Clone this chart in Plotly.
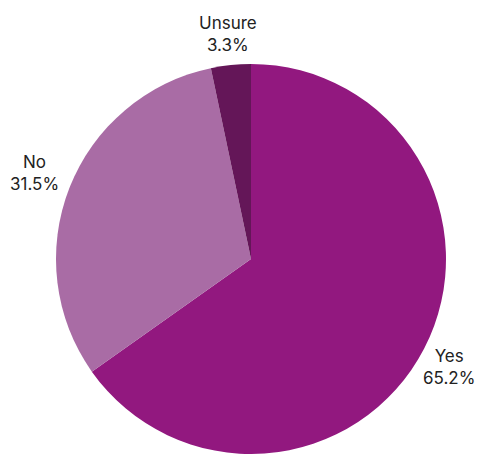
import math
import plotly.graph_objects as go

labels = ["Yes", "No", "Unsure"]
values = [65.2, 31.5, 3.3]
colors = ["#92187F", "#A96CA5", "#641658"]

# the page adds an 8px body margin, so the figure is drawn 8px smaller
W, H = 475, 446
# pie placement in figure pixels
cx, cy, r = 243, 251, 195
gap = 8          # gap between pie edge and label box
edge_pad = 9     # keep labels clear of the window edge
font_size = 17

fig = go.Figure(go.Pie(
    labels=labels,
    values=values,
    sort=False,
    direction="clockwise",
    rotation=0,
    marker=dict(colors=colors, line=dict(width=0)),
    textinfo="none",
    showlegend=False,
    hoverinfo="label+percent",
    domain=dict(x=[(cx - r) / W, (cx + r) / W],
                y=[max(0, (H - cy - r) / H), (H - cy + r) / H]),
))

total = sum(values)
start = 0.0
annotations = []
for lab, val in zip(labels, values):
    mid = (start + val / 2) / total * 2 * math.pi
    start += val
    txt = f"{val:.1f}%"
    hw = 0.3 * font_size * max(len(lab), len(txt))   # estimated half width
    hh = 1.2 * font_size                              # estimated half height
    s, c = math.sin(mid), math.cos(mid)
    dist = r + gap + abs(s) * hw + abs(c) * hh
    x = cx + dist * s
    y = cy - dist * c
    x = min(max(x, hw + 1), W - hw - edge_pad)
    y = min(max(y, hh + 1), H - hh - 1)
    annotations.append(dict(
        x=x / W, y=1 - y / H, xref="paper", yref="paper",
        text=f"{lab}<br>{txt}", showarrow=False,
        xanchor="center", yanchor="middle", align="center",
        font=dict(family="Inter", size=font_size, color="#222222"),
    ))

fig.update_layout(
    width=W,
    height=H,
    margin=dict(l=0, r=0, t=0, b=0),
    paper_bgcolor="white",
    plot_bgcolor="white",
    annotations=annotations,
)

fig.write_html("out.html")
